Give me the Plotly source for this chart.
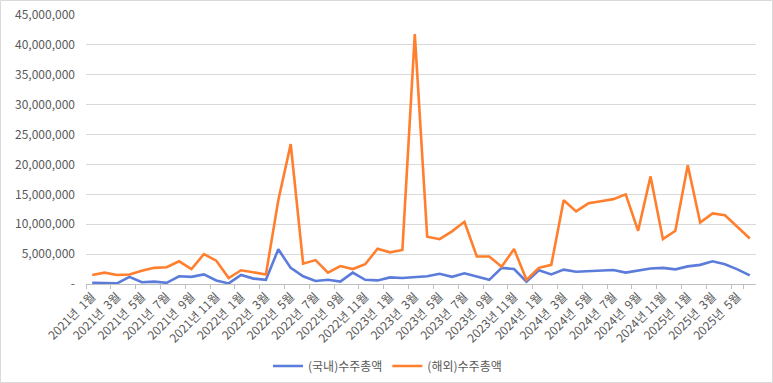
import plotly.graph_objects as go

months = [f"{y}년 {m}월" for y in range(2021, 2026) for m in range(1, 13)][:54]

domestic = [0.2, 0.1, 0.1, 1.2, 0.3, 0.4, 0.2, 1.3, 1.2, 1.6, 0.6, 0.1,
            1.5, 0.9, 0.7, 5.8, 2.7, 1.3, 0.5, 0.7, 0.4, 1.9, 0.7, 0.6,
            1.1, 1.0, 1.1, 1.3, 1.7, 1.2, 1.8, 1.3, 0.7, 2.7, 2.5, 0.4,
            2.3, 1.6, 2.4, 2.05, 2.15, 2.25, 2.35, 1.9, 2.2, 2.6, 2.7, 2.45,
            2.95, 3.2, 3.8, 3.3, 2.45, 1.45]
overseas = [1.5, 1.9, 1.5, 1.6, 2.2, 2.7, 2.8, 3.8, 2.5, 5.0, 3.9, 1.0,
            2.3, 1.9, 1.6, 14.0, 23.4, 3.4, 4.0, 1.9, 3.0, 2.5, 3.3, 5.9,
            5.3, 5.7, 41.8, 7.9, 7.5, 8.8, 10.4, 4.6, 4.6, 2.9, 5.85, 0.7,
            2.7, 3.2, 14.0, 12.15, 13.5, 13.85, 14.2, 15.0, 8.9, 18.0, 7.5, 8.9,
            19.85, 10.3, 11.8, 11.5, 9.6, 7.6]
domestic = [v * 1_000_000 for v in domestic]
overseas = [v * 1_000_000 for v in overseas]

tick_months = months[::2]
tick_text = [s.replace("년 ", "년\u00a0\u00a0") if len(s.split(" ")[1]) == 2 else s for s in tick_months]

y_vals = list(range(0, 45_000_001, 5_000_000))
y_text = ["-"] + [f"{v:,}" for v in y_vals[1:]]

font_family = "Noto Sans CJK KR, Noto Sans, sans-serif"
grey = "#595959"

fig = go.Figure()
fig.add_trace(go.Scatter(x=months, y=domestic, mode="lines", name="(국내)수주총액",
                         line=dict(color="#5B7CDA", width=2.6)))
fig.add_trace(go.Scatter(x=months, y=overseas, mode="lines", name="(해외)수주총액",
                         line=dict(color="#FF7F2E", width=2.6)))

fig.update_layout(
    width=773, height=383,
    margin=dict(l=86, r=17, t=15, b=99, autoexpand=False),
    paper_bgcolor="white", plot_bgcolor="white",
    font=dict(family=font_family, color=grey, size=12),
    showlegend=True,
    legend=dict(orientation="h", x=0.45, xanchor="center", y=-0.305, yanchor="middle",
                font=dict(size=12, color=grey), itemwidth=30, traceorder="normal"),
    xaxis=dict(type="category", range=[-0.5, 53.5], tickmode="array",
               tickvals=tick_months, ticktext=tick_text, tickangle=-45,
               tickson="boundaries", ticks="outside", ticklen=4, tickcolor="#bfbfbf",
               showgrid=False, showline=True, linecolor="#bfbfbf", linewidth=1,
               automargin=False,
               tickfont=dict(size=12, color=grey)),
    yaxis=dict(range=[0, 45_000_000], tickmode="array", tickvals=y_vals, ticktext=y_text,
               showgrid=True, gridcolor="#d9d9d9", gridwidth=1, zeroline=False,
               showline=False, ticks="", ticklabelstandoff=10, automargin=False,
               tickfont=dict(size=12, color=grey)),
    shapes=[dict(type="rect", xref="paper", yref="paper",
                 x0=-85.5 / 670, x1=1 + 16.5 / 670, y0=-98.5 / 269, y1=1 + 14.5 / 269,
                 line=dict(color="#d9d9d9", width=1), fillcolor="rgba(0,0,0,0)")],
)

fig.write_html("out.html", config={"displayModeBar": False},
               post_script="document.body.style.margin='0';")
